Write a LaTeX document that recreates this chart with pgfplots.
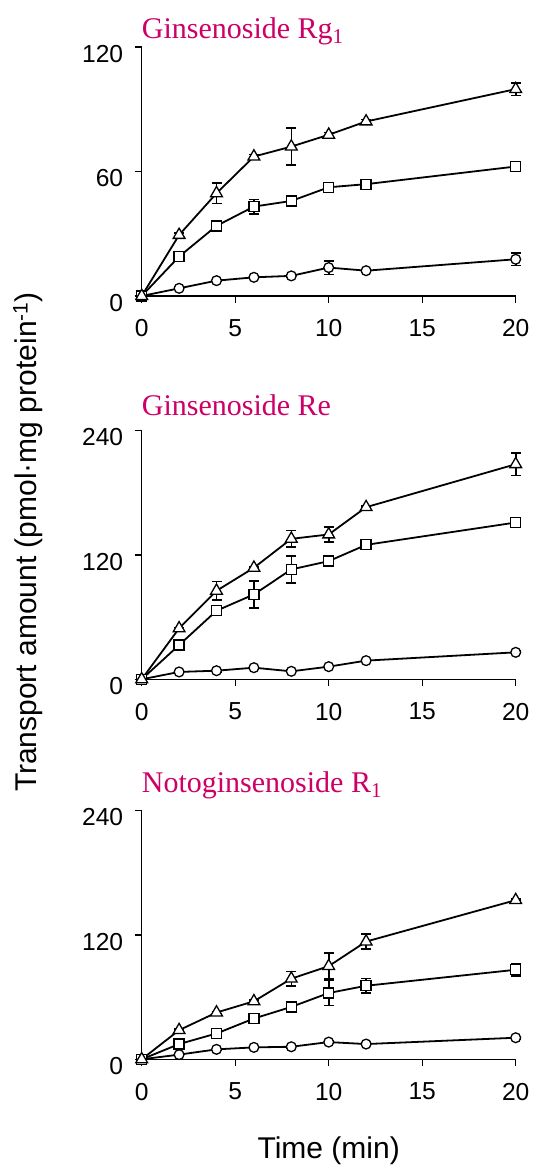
\documentclass[border=0pt]{standalone}
\usepackage{fontspec}
\setmainfont{Liberation Sans}
\newfontfamily\seriffont{Liberation Serif}
\usepackage{pgfplots}
\usepackage{pgfplotstable}
\pgfplotsset{compat=1.18}
\definecolor{ttl}{RGB}{204,0,102}

\pgfplotsset{
  panel/.style={
    scale only axis, width=374pt, height=249pt,
    xmin=0, xmax=20, ymin=0,
    axis lines=left, axis line style={-, line width=1.4pt},
    xtick={0,5,10,15,20},
    tick align=outside, major tick length=7pt,
    tick style={line width=1.4pt, black},
    tick label style={font=\fontsize{24.6}{28}\selectfont},
    /pgf/number format/assume math mode=true,
    yticklabel style={xshift=-8pt, yshift=-7pt},
    xticklabel style={yshift=-13pt},
    clip=false,
  },
  errb/.style={forget plot, mark=none, draw=none,
    error bars/.cd, y dir=both, y explicit,
    error bar style={draw=black, line width=1.6pt},
    error mark options={draw=black, rotate=90, mark size=5pt, line width=1.6pt}},
  ln/.style={black, line width=1.8pt,
    mark options={solid, fill=white, line width=1.3pt}},
  tri/.style={ln, mark=triangle*, mark size=6.8pt},
  sq/.style={ln, mark=square*, mark size=5pt},
  ci/.style={ln, mark=*, mark size=4.9pt},
}
\newcommand\ttlfont{\seriffont\fontsize{30}{34}\selectfont}

% Ginsenoside Rg1
\pgfplotstableread{
t y e
0 0 0
2 29.4 1
4 49.5 5
6 67.2 1
8 72.0 9
10 77.7 1
12 84.1 1
20 99.7 3
}\rgTri
\pgfplotstableread{
t y e
0 0 0
2 19.0 2
4 33.8 1
6 43.1 3.5
8 45.8 1.5
10 52.4 1
12 53.9 1.8
20 62.4 1
}\rgSq
\pgfplotstableread{
t y e
0 0 0
2 3.7 0.5
4 7.4 0.5
6 9.0 0.5
8 9.7 0.5
10 13.7 3.3
12 12.2 0.5
20 17.7 3
}\rgCi

% Ginsenoside Re
\pgfplotstableread{
t y e
0 0 0
2 49.1 1
4 85.3 9
6 107.5 1
8 135.4 8
10 139.6 7
12 165.9 1
20 207.3 11
}\reTri
\pgfplotstableread{
t y e
0 0 0
2 33.0 1
4 66.1 1
6 81.8 12.8
8 105.9 13
10 113.9 1
12 129.6 1
20 151.1 2
}\reSq
\pgfplotstableread{
t y e
0 0 0
2 7.1 1
4 8.3 1
6 11.2 1
8 7.7 1
10 12.2 1
12 18.0 1
20 26.0 1
}\reCi

% Notoginsenoside R1
\pgfplotstableread{
t y e
0 0 0
2 28.1 1
4 45.1 1
6 55.9 1
8 77.7 7
10 89.8 12.5
12 113.5 7
20 153.4 1
}\rTri
\pgfplotstableread{
t y e
0 0 0
2 14.7 1
4 24.9 1
6 39.3 1
8 50.5 1
10 63.9 12
12 70.9 7
20 86.3 6
}\rSq
\pgfplotstableread{
t y e
0 0 0
2 4.5 1
4 9.6 1
6 11.5 1
8 12.1 1
10 16.6 1
12 14.7 1
20 20.8 1
}\rCi

\begin{document}
\begin{tikzpicture}
\useasboundingbox (0,0) rectangle (538pt,-1166pt);

\begin{axis}[panel, at={(141.7pt,-296pt)}, anchor=south west,
  ymax=120, ytick={0,60,120}]
\addplot[errb] table[x=t, y=y, y error=e] {\rgCi};
\addplot[errb] table[x=t, y=y, y error=e] {\rgSq};
\addplot[errb] table[x=t, y=y, y error=e] {\rgTri};
\addplot[ci] table[x=t, y=y] {\rgCi};
\addplot[sq] table[x=t, y=y] {\rgSq};
\addplot[tri] table[x=t, y=y] {\rgTri};
\node[anchor=base west, font=\ttlfont, text=ttl, inner sep=0pt]
  at (axis cs:0,124.3) {Ginsenoside Rg\textsubscript{1}};
\end{axis}

\begin{axis}[panel, at={(141.7pt,-679.3pt)}, anchor=south west,
  ymax=240, ytick={0,120,240}]
\addplot[errb] table[x=t, y=y, y error=e] {\reCi};
\addplot[errb] table[x=t, y=y, y error=e] {\reSq};
\addplot[errb] table[x=t, y=y, y error=e] {\reTri};
\addplot[ci] table[x=t, y=y] {\reCi};
\addplot[sq] table[x=t, y=y] {\reSq};
\addplot[tri] table[x=t, y=y] {\reTri};
\node[anchor=base west, font=\ttlfont, text=ttl, inner sep=0pt]
  at (axis cs:0,254.5) {Ginsenoside Re};
\end{axis}

\begin{axis}[panel, at={(141.7pt,-1059.3pt)}, anchor=south west,
  ymax=240, ytick={0,120,240}]
\addplot[errb] table[x=t, y=y, y error=e] {\rCi};
\addplot[errb] table[x=t, y=y, y error=e] {\rSq};
\addplot[errb] table[x=t, y=y, y error=e] {\rTri};
\addplot[ci] table[x=t, y=y] {\rCi};
\addplot[sq] table[x=t, y=y] {\rSq};
\addplot[tri] table[x=t, y=y] {\rTri};
\node[anchor=base west, font=\ttlfont, text=ttl, inner sep=0pt]
  at (axis cs:0,257.3) {Notoginsenoside R\textsubscript{1}};
\end{axis}

\node[rotate=90, font=\fontsize{30}{34}\selectfont] at (28pt,-542pt)
  {Transport amount (pmol·mg protein\textsuperscript{-1})};
\node[anchor=base, font=\fontsize{30}{34}\selectfont] at (328.7pt,-1158pt)
  {Time (min)};
\end{tikzpicture}
\end{document}
